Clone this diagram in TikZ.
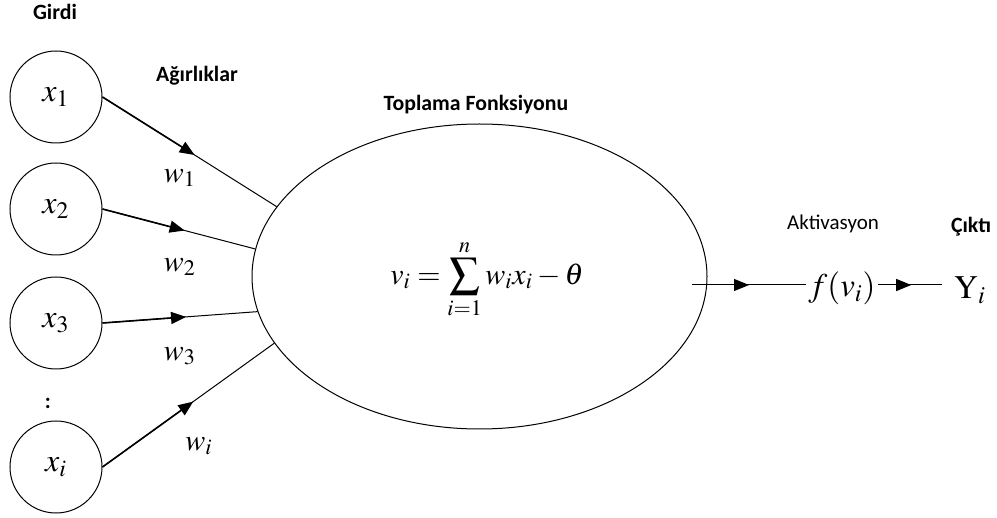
\documentclass[tikz,border=0pt]{standalone}
\usepackage{mathptmx}
\usepackage[no-math]{fontspec}
\newfontfamily\carlito{Carlito}
\usetikzlibrary{shapes.geometric,arrows.meta,decorations.markings}
\begin{document}
\begin{tikzpicture}[x=0.5pt,y=-0.5pt,
  lbl/.style={font=\carlito\bfseries\fontsize{10.9}{12}\selectfont, inner sep=0},
  plainlbl/.style={font=\carlito\fontsize{10.5}{12}\selectfont, inner sep=0},
  inp/.style={circle,draw,line width=0.5pt,minimum size=46pt,inner sep=0,font=\fontsize{16}{18}\selectfont},
  wl/.style={font=\fontsize{15}{18}\selectfont, inner sep=0},
  ol/.style={font=\fontsize{16.5}{18}\selectfont, inner sep=1pt},
  conn/.style={line width=0.5pt},
  headseg/.style={line width=0.8pt,-{Triangle[length=7.5pt,width=6pt]}, shorten >=-3pt},
  midarrow/.style={conn, postaction={decorate}, decoration={markings, mark=at position #1 with {\arrow{Triangle[length=7.5pt,width=6pt]}}}},
  midarrow/.default=0.5
]
\useasboundingbox (0,0) rectangle (997,518);

% labels
\node[lbl] (girdi) at (55,12) {Girdi};
\node[lbl] (agir) at (197,76) {Ağırlıklar};
\node[lbl] (topl) at (476,105) {Toplama Fonksiyonu};
\node[plainlbl] (akt) at (833,224) {Aktivasyon};
\node[lbl] (cikti) at (971,227) {Çıktı};
\node[lbl] (dots) at (48,403) {:};

% inputs
\node[inp] (x1) at (56,97) {$x_1$};
\node[inp] (x2) at (56,209) {$x_2$};
\node[inp] (x3) at (56,323) {$x_3$};
\node[inp] (xi) at (56,467) {$x_i$};

% summation
\node[ellipse,draw,line width=0.5pt,minimum width=227.5pt,minimum height=152.5pt,inner sep=0] (sum) at (479.5,276.5) {};
\node[wl] (formula) at (487,279) {$\displaystyle v_i=\sum_{i=1}^{n} w_i x_i-\theta$};

% weights
\node[wl] (w1) at (180,178) {$w_1$};
\node[wl] (w2) at (180,267) {$w_2$};
\node[wl] (w3) at (180,356) {$w_3$};
\node[wl] (wi) at (199,446) {$w_i$};

\draw[conn] (x1.east) -- (sum.161.1) coordinate[pos=0.5] (m1);
\draw[conn] (x2.east) -- (sum.173.3) coordinate[pos=0.5] (m2);
\draw[conn] (x3.east) -- (sum.189.9) coordinate[pos=0.5] (m3);
\draw[conn] (xi.east) -- (sum.198.0) coordinate[pos=0.5] (m4);
\draw[headseg] (x1.east) -- (m1);
\draw[headseg] (x2.east) -- (m2);
\draw[headseg] (x3.east) -- (m3);
\draw[headseg] (xi.east) -- (m4);

% output
\node[ol] (f) at (842,288) {$f(v_i)$};
\node[ol] (y) at (970,290) {$\mathrm{Y}_i$};
\coordinate (out) at (692,285);
\coordinate (yin) at (942,285);
\draw[midarrow] (out) -- (f.west |- out);
\draw[midarrow=0.52] (f.east |- out) -- (yin);
\end{tikzpicture}
\end{document}
